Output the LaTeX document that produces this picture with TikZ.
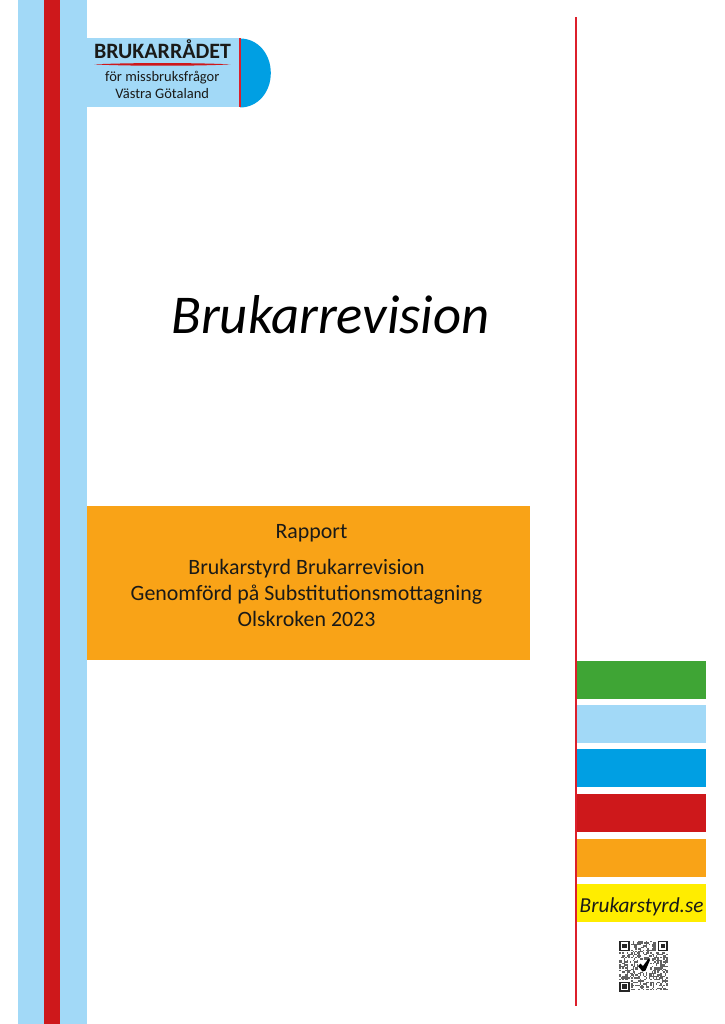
\documentclass[tikz,border=0pt]{standalone}
\usepackage{fontspec}
\setmainfont{Carlito}
\definecolor{lblue}{HTML}{A2D9F7}
\definecolor{dred}{HTML}{CE181B}
\definecolor{cblue}{HTML}{009FE3}
\definecolor{cgreen}{HTML}{3FA535}
\definecolor{corange}{HTML}{F9A317}
\definecolor{cyell}{HTML}{FFED00}
\definecolor{linered}{HTML}{DC1F2B}
\definecolor{ink}{HTML}{1A1A18}
\tikzset{
  x=1pt,y=-1pt,
  txt/.style={inner sep=0pt,anchor=base,text=ink},
  body/.style={txt,font=\fontsize{21.9}{26}\selectfont},
  logosm/.style={txt,font=\fontsize{14.5}{17}\selectfont}
}
\newcommand{\qrfinder}[2]{%
  \fill[black!85] (#1,#2) rectangle ++(10.2,10.2);
  \fill[white] (#1+1.5,#2+1.5) rectangle ++(7.2,7.2);
  \fill[black!85] (#1+2.9,#2+2.9) rectangle ++(4.4,4.4);
}
\begin{document}
\begin{tikzpicture}
\useasboundingbox (0,0) rectangle (724,1024);
\fill[white] (0,0) rectangle (724,1024);
% left stripes
\fill[lblue] (18,0) rectangle (87,1024);
\fill[dred] (44.3,0) rectangle (60.3,1024);
% logo
\fill[lblue] (87,38.5) rectangle (240,107.5);
\fill[cblue] (240,38.5) .. controls (258,38.5) and (270.8,54) .. (270.8,73) .. controls (270.8,92) and (258,107.5) .. (240,107.5) -- cycle;
\fill[linered] (239.1,38.5) rectangle (240.9,107.5);
\node[txt,font=\bfseries\fontsize{21.9}{24}\selectfont] (logotitle) at (162.5,59) {BRUKARRÅDET};
\fill[dred] (94,64.4) .. controls (130,62.6) and (195,62.6) .. (230.5,64.4) .. controls (195,66.2) and (130,66.2) .. (94,64.4) -- cycle;
\node[logosm] (logosub) at (162.3,82) {för missbruksfrågor};
\node[logosm] (logoreg) at (162.3,99) {Västra Götaland};
% title
\node[txt,text=black,font=\itshape\fontsize{54.7}{60}\selectfont] (title) at (330.5,333) {Brukarrevision};
% orange box
\fill[corange] (87,505.8) rectangle (530.2,660.3);
\node[body] (r1) at (311.5,538.4) {Rapport};
\node[body] (r2) at (306.5,574.2) {Brukarstyrd Brukarrevision};
\node[body] (r3) at (306.5,600.4) {Genomförd på Substitutionsmottagning};
\node[body] (r4) at (306.5,626.8) {Olskroken 2023};
% right rule
\fill[linered] (574.8,17) rectangle (576.6,1006);
% bars
\fill[cgreen] (577,661) rectangle (706,698.7);
\fill[lblue] (577,705) rectangle (706,742.5);
\fill[cblue] (577,748.8) rectangle (706,786.6);
\fill[dred] (577,793.5) rectangle (706,831.5);
\fill[corange] (577,838.5) rectangle (706,876.5);
\fill[cyell] (577,883.5) rectangle (706,922);
\node[txt,font=\itshape\fontsize{21.3}{24}\selectfont] (site) at (641.6,912) {Brukarstyrd.se};
% QR code
\pgfmathsetseed{4711}
\foreach \i in {0,...,32}{
  \foreach \j in {0,...,33}{
    \pgfmathparse{rnd<0.5 ? 1 : 0}
    \ifnum\pgfmathresult=1
      \fill[black!62] (619.4+\i*1.46,940.8+\j*1.46) rectangle ++(1.46,1.46);
    \fi
  }
}
\fill[white] (619.4,940.8) rectangle ++(11.5,11.5);
\fill[white] (656.4,940.8) rectangle ++(11.5,11.5);
\fill[white] (619.4,980.2) rectangle ++(11.5,11.5);
\qrfinder{619.4}{940.8}
\qrfinder{657.6}{940.8}
\qrfinder{619.4}{981.5}
\fill[white] (638,960) rectangle (650,972);
\fill[black] (638,966) -- (640.5,963.5) -- (643,966) -- (648.5,958.5) -- (650,960) -- (645.5,970.5) -- (642.5,971.5) -- cycle;
\end{tikzpicture}
\end{document}
